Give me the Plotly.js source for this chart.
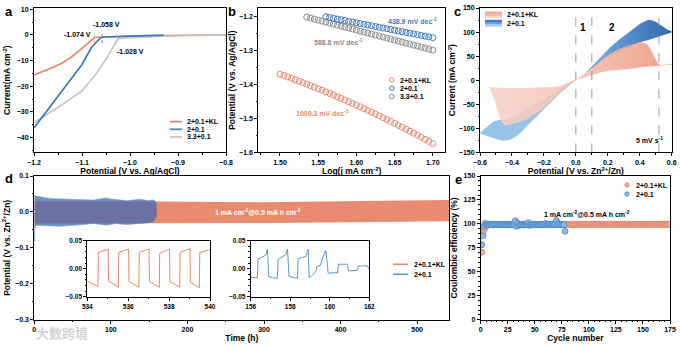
<!DOCTYPE html>
<html><head><meta charset="utf-8">
<script src="https://cdn.plot.ly/plotly-3.0.1.min.js"></script>
<style>html,body{margin:0;padding:0;background:#fff}#chart{width:680px;height:346px}</style>
</head><body><div id="chart"></div>
<script>
// ================= DATA =================
// (a) LSV curves
const aKLx = [-1.2, -1.18, -1.16, -1.14, -1.12, -1.10, -1.09, -1.08, -1.074, -1.065, -1.0, -0.95, -0.9, -0.85, -0.8];
const aKLy = [-15.6, -14.2, -12.6, -10.8, -8.3, -5.2, -3.6, -2.0, -1.0, -0.8, -0.45, -0.3, -0.2, -0.1, 0];
const aBx = [-1.2, -1.15, -1.1, -1.08, -1.07, -1.062, -1.058, -1.05, -1.0, -0.95, -0.93];
const aBy = [-36.2, -24.0, -11.5, -4.8, -2.6, -1.2, -1.0, -0.8, -0.45, -0.2, -0.1];
const aGx = [-1.2, -1.17, -1.14, -1.1, -1.07, -1.05, -1.04, -1.03, -1.025, -1.0, -0.95, -0.9, -0.85, -0.8];
const aGy = [-34.2, -30.6, -27.0, -21.8, -15.0, -9.5, -6.2, -3.0, -1.4, -1.0, -0.6, -0.3, -0.15, 0];
const aOnset = [-1.074, -1.058, -1.028];
const aOnsetLabels = ['-1.074 V', '-1.058 V', '-1.028 V'];
const seriesNames = ['2+0.1+KL', '2+0.1', '3.3+0.1'];

// (b) Tafel plots
const bKLx = [1.500,1.505,1.510,1.515,1.520,1.525,1.530,1.535,1.540,1.545,1.550,1.555,1.560,1.565,1.570,1.575,1.580,1.585,1.590,1.595,1.600,1.605,1.610,1.615,1.620,1.625,1.630,1.635,1.640,1.645,1.650,1.655,1.660,1.665,1.670,1.675,1.680,1.685,1.690,1.695,1.700];
const bKLy = [-1.3700,-1.3740,-1.3781,-1.3822,-1.3864,-1.3907,-1.3950,-1.3993,-1.4038,-1.4082,-1.4128,-1.4173,-1.4220,-1.4267,-1.4314,-1.4362,-1.4410,-1.4460,-1.4509,-1.4559,-1.4610,-1.4661,-1.4713,-1.4766,-1.4818,-1.4872,-1.4926,-1.4981,-1.5036,-1.5091,-1.5148,-1.5204,-1.5262,-1.5319,-1.5378,-1.5437,-1.5496,-1.5557,-1.5617,-1.5678,-1.5740];
const bBx = [1.560,1.565,1.570,1.575,1.580,1.585,1.590,1.595,1.600,1.605,1.610,1.615,1.620,1.625,1.630,1.635,1.640,1.645,1.650,1.655,1.660,1.665,1.670,1.675,1.680,1.685,1.690,1.695,1.700];
const bBy = [-1.2009,-1.2031,-1.2053,-1.2075,-1.2097,-1.2119,-1.2141,-1.2163,-1.2185,-1.2207,-1.2228,-1.2250,-1.2272,-1.2294,-1.2316,-1.2338,-1.2360,-1.2382,-1.2404,-1.2426,-1.2448,-1.2470,-1.2491,-1.2513,-1.2535,-1.2557,-1.2579,-1.2601,-1.2623];
const bGx = [1.535,1.540,1.545,1.550,1.555,1.560,1.565,1.570,1.575,1.580,1.585,1.590,1.595,1.600,1.605,1.610,1.615,1.620,1.625,1.630,1.635,1.640,1.645,1.650,1.655,1.660,1.665,1.670,1.675,1.680,1.685,1.690,1.695,1.700];
const bGy = [-1.2018,-1.2047,-1.2077,-1.2106,-1.2135,-1.2165,-1.2194,-1.2224,-1.2253,-1.2283,-1.2312,-1.2342,-1.2371,-1.2400,-1.2430,-1.2459,-1.2489,-1.2518,-1.2548,-1.2577,-1.2606,-1.2636,-1.2665,-1.2695,-1.2724,-1.2754,-1.2783,-1.2813,-1.2842,-1.2871,-1.2901,-1.2930,-1.2960,-1.2989];
const bSlopes = ['1009.3 mV dec<sup>-1</sup>', '438.9 mV dec<sup>-1</sup>', '588.8 mV dec<sup>-1</sup>'];

// (c) CV loops
const cKLx = [-0.6,-0.57,-0.54,-0.45,-0.35,-0.25,-0.15,-0.1,-0.06,-0.03,0.0,0.03,0.06,0.11,0.15,0.21,0.32,0.42,0.51,0.6,0.6,0.53,0.51,0.5,0.49,0.48,0.465,0.445,0.42,0.4,0.36,0.32,0.26,0.21,0.16,0.11,0.06,0.02,-0.02,-0.06,-0.1,-0.15,-0.2,-0.25,-0.3,-0.36,-0.41,-0.44,-0.465,-0.48,-0.495,-0.51,-0.525,-0.54,-0.57,-0.6];
const cKLy = [-13,-13.5,-15,-16,-16.5,-16,-14,-12,-6,-1,2,3,6,12,16,19.5,22.7,27.5,29.5,32,33.5,31,36,43,50,57,66,75,78.5,79,76,71.5,63,54,42,27,15,4,-5,-14,-26,-43,-58,-70,-80,-88,-93,-95,-88,-75,-58,-40,-26,-16,-13.5,-13];
const cBx = [-0.6,-0.57,-0.54,-0.515,-0.48,-0.43,-0.35,-0.25,-0.15,-0.05,0.0,0.05,0.11,0.16,0.214,0.27,0.319,0.36,0.402,0.43,0.454,0.48,0.506,0.528,0.548,0.575,0.6,0.6,0.55,0.5,0.45,0.4,0.35,0.3,0.25,0.2,0.15,0.1,0.05,0.0,-0.05,-0.1,-0.15,-0.2,-0.25,-0.3,-0.348,-0.37,-0.39,-0.42,-0.452,-0.48,-0.515,-0.55,-0.6];
const cBy = [-110,-100,-92,-86,-83,-82,-68,-49,-30,-10,0,12,33,51,68,84,96,107,117,122,125.5,124,120.6,115,110,105,101.7,99,94,88,83,79,72,64,55,46,35,24,12,0,-13,-28,-44,-60,-76,-93,-110,-116,-121,-124.5,-126,-124.5,-120.6,-116,-111];
const cDividers = [0, 0.1, 0.52];

// (d) galvanostatic cycling envelopes
const dKLt   = [0, 20, 50, 100, 150, 160, 170, 200, 250, 300, 350, 400, 450, 500, 542];
const dKLtop = [0.030, 0.030, 0.030, 0.030, 0.031, 0.031, 0.029, 0.028, 0.027, 0.027, 0.028, 0.029, 0.030, 0.031, 0.033];
const dKLbot = [-0.032, -0.032, -0.032, -0.032, -0.033, -0.033, -0.032, -0.032, -0.032, -0.031, -0.030, -0.029, -0.028, -0.027, -0.026];
const dBt   = [0, 0.4, 0.8, 1.5, 3, 10, 16, 25, 33, 45, 55, 65, 77, 86, 94, 100, 107, 114, 120, 128, 137, 145, 150, 155, 158, 160];
const dBtop = [0.048, 0.046, 0.044, 0.044, 0.044, 0.041, 0.039, 0.037, 0.036, 0.035, 0.035, 0.034, 0.033, 0.036, 0.039, 0.036, 0.035, 0.033, 0.031, 0.033, 0.035, 0.033, 0.031, 0.034, 0.030, 0.020];
const dBbot = [-0.060, -0.083, -0.050, -0.040, -0.037, -0.038, -0.039, -0.040, -0.040, -0.038, -0.037, -0.035, -0.032, -0.035, -0.037, -0.035, -0.032, -0.034, -0.035, -0.034, -0.033, -0.031, -0.030, -0.028, -0.020, -0.010];
// inset 1 (2+0.1+KL, 534-540 h)
const in1t = [534.0,534.52,534.54,535.02,535.04,535.52,535.54,536.02,536.04,536.52,536.54,537.02,537.04,537.52,537.54,538.02,538.04,538.52,538.54,539.02,539.04,539.48,539.5,540.0];
const in1v = [-0.022,-0.032,0.029,0.035,-0.022,-0.033,0.029,0.035,-0.023,-0.033,0.029,0.035,-0.023,-0.033,0.028,0.035,-0.023,-0.033,0.029,0.036,-0.024,-0.034,0.029,0.034];
// inset 2 (2+0.1, 156-162 h)
const in2t = [156.0,156.34,156.37,156.59,156.76,156.85,156.91,157.1,157.35,157.39,157.6,157.77,157.86,157.94,158.2,158.37,158.4,158.7,158.79,158.91,158.96,159.05,159.13,159.3,159.35,159.41,159.52,159.6,159.8,159.92,160.4,160.44,160.9,160.94,161.4,161.45,161.9,162.0];
const in2v = [-0.016,-0.016,0.017,0.021,0.024,0.035,-0.014,-0.016,-0.017,0.017,0.021,0.025,0.035,-0.014,-0.016,-0.017,0.018,0.021,0.022,0.035,-0.016,-0.014,-0.011,-0.005,0.004,0.005,0.006,0.0155,0.033,-0.008,-0.007,0.008,0.008,-0.004,-0.003,0.005,0.005,-0.002];

// (e) Coulombic efficiency
const eKL = [70.3,90.5,93.0,96.0,97.5,98.6,99.1,99.3,99.4,99.5,
99.6,99.4,99.5,99.7,99.5,99.4,99.6,99.5,99.6,99.4,
99.5,99.7,99.5,99.6,99.4,99.5,99.6,99.5,99.7,99.5,
99.4,99.6,99.5,99.5,99.7,99.6,99.4,99.5,99.6,99.5,
99.7,99.5,99.4,99.6,99.5,99.6,99.5,99.7,99.4,99.5,
99.6,99.5,99.5,99.7,99.6,99.4,99.5,99.6,99.5,99.7,
99.5,99.4,99.6,99.5,99.6,99.5,99.7,99.4,99.5,99.6,
99.5,99.6,99.7,99.5,99.4,99.6,99.5,99.6,99.5,99.7,
99.4,99.5,99.6,99.5,99.5,99.7,99.6,99.4,99.5,99.6,
99.5,99.7,99.5,99.4,99.6,99.5,99.6,99.5,99.7,99.4,
99.5,99.6,99.5,99.6,99.7,99.5,99.4,99.6,99.5,99.6,
99.5,99.7,99.4,99.5,99.6,99.5,99.5,99.7,99.6,99.4,
99.5,99.6,99.5,99.7,99.5,99.4,99.6,99.5,99.6,99.5,
99.7,99.4,99.5,99.6,99.5,99.6,99.7,99.5,99.4,99.6,
99.5,99.6,99.5,99.7,99.4,99.5,99.6,99.5,99.5,99.7,
99.6,99.4,99.5,99.6,99.5,99.7,99.5,99.4,99.6,99.5,
99.6,99.5,99.7,99.4,99.5,99.6,99.5,99.6,99.5,99.7,
99.4,99.5,99.6,99.5,99.6];
const eB = [78.3,87.5,97.5,100.5,99.0,99.3,98.8,99.5,99.2,99.6,
98.9,99.4,99.1,99.5,99.0,99.3,99.6,98.8,99.2,99.4,
99.0,99.5,99.3,98.9,99.6,99.1,99.4,99.2,99.0,99.5,
99.3,103.2,97.5,100.8,98.2,99.4,99.0,99.6,99.2,98.8,
99.5,99.1,99.3,101.2,98.5,99.4,99.0,99.6,99.2,99.4,
98.9,99.5,99.1,99.3,99.6,99.0,99.4,99.2,99.5,100.6,
99.0,99.3,99.5,99.1,99.4,99.2,99.6,98.9,99.3,103.6,
99.2,100.2,99.4,99.0,99.5,99.2,99.4,92.3];
const eKLcycle = eKL.map((v, i) => i + 1);
const eBcycle = eB.map((v, i) => i + 1);
const condText = '1 mA cm<sup>-2</sup>@0.5 mA h cm<sup>-2</sup>';

// ================= STYLE =================
const F = 'Liberation Sans, Arial, Helvetica, sans-serif';
const ORANGE = '#E8876C', BLUE = '#3D79B6', GREY = '#C6C6C6', GREYD = '#8A8A8A';
const W = 680, H = 346;
const px = v => v / W, py = v => 1 - v / H;
const bold = (s, c) => ({family: F, size: s, color: c || '#000', weight: 'bold'});

function axis(o) {
  const base = {showline: true, linecolor: '#000', linewidth: 1, mirror: true,
    ticks: 'outside', ticklen: 3, tickwidth: 1, tickcolor: '#000',
    showgrid: false, zeroline: false, tickfont: bold(7), automargin: false,
    minor: {ticks: 'outside', ticklen: 1.5, tickcolor: '#000'}};
  const r = Object.assign(base, o);
  if (o.minorD) { r.minor = Object.assign({}, base.minor, {dtick: o.minorD}); delete r.minorD; }
  if (r.title && r.title.text) r.title.font = bold(8.5);
  return r;
}

const topY = [py(152.3), py(8)];
const botY = [py(319.7), py(176)];
const insY = [py(296.7), py(240.7)];

const layout = {
  width: W, height: H, margin: {l: 0, r: 0, t: 0, b: 0},
  paper_bgcolor: '#fff', plot_bgcolor: 'rgba(0,0,0,0)',
  showlegend: false, hovermode: false,
  font: {family: F, size: 7, color: '#000', weight: 'bold'},
  xaxis: axis({domain: [px(34), px(226)], anchor: 'y', range: [-1.2, -0.8], dtick: 0.1, tick0: -1.2, tickformat: '.1f', minorD: 0.05,
    title: {text: 'Potential (V vs. Ag/AgCl)', standoff: 1}}),
  yaxis: axis({domain: topY, anchor: 'x', range: [-45.7, 10.5], dtick: 10, tick0: 0, minorD: 5,
    title: {text: 'Current(mA cm<sup>-2</sup>)', standoff: 4}}),
  xaxis2: axis({domain: [px(258.3), px(445)], anchor: 'y2', range: [1.4716, 1.7161], dtick: 0.05, tick0: 1.5, tickformat: '.2f', minorD: 0.025,
    title: {text: 'Log(j mA cm<sup>-2</sup>)', standoff: 1}}),
  yaxis2: axis({domain: topY, anchor: 'x2', range: [-1.6, -1.175], dtick: 0.1, tick0: -1.6, tickformat: '.1f', minorD: 0.05,
    title: {text: 'Potential (V vs. Ag/AgCl)', standoff: 2}}),
  xaxis3: axis({domain: [px(480), px(671.7)], anchor: 'y3', range: [-0.6, 0.6], dtick: 0.2, tick0: -0.6, tickformat: '.1f', minorD: 0.1,
    title: {text: 'Potential (V vs. Zn<sup>2+</sup>/Zn)', standoff: 1}}),
  yaxis3: axis({domain: topY, anchor: 'x3', range: [-150, 150], dtick: 50, tick0: 0, minorD: 25,
    title: {text: 'Current (mA cm<sup>-2</sup>)', standoff: 1}}),
  xaxis4: axis({domain: [px(34.3), px(449.3)], anchor: 'y4', range: [0, 542], dtick: 100, tick0: 0, minorD: 50,
    title: {text: 'Time (h)', standoff: 2}}),
  yaxis4: axis({domain: botY, anchor: 'x4', range: [-0.3, 0.1], dtick: 0.1, tick0: 0, tickformat: '.1f', minorD: 0.05,
    title: {text: 'Potential (V vs. Zn<sup>2+</sup>/Zn)', standoff: 3}}),
  xaxis5: axis({domain: [px(480.7), px(670)], anchor: 'y5', range: [0, 175], dtick: 25, tick0: 0,
    title: {text: 'Cycle number', standoff: 2}}),
  yaxis5: axis({domain: botY, anchor: 'x5', range: [0, 150], dtick: 25, tick0: 0,
    title: {text: 'Coulombic efficiency (%)', standoff: 4}}),
  xaxis6: axis({domain: [px(87.3), px(210)], anchor: 'y6', range: [534, 540], dtick: 2, tick0: 534, minorD: 1, tickfont: bold(6.5)}),
  yaxis6: axis({domain: insY, anchor: 'x6', range: [-0.05, 0.05], dtick: 0.05, tick0: 0, tickformat: '.2f', tickfont: bold(6.5)}),
  xaxis7: axis({domain: [px(250.7), px(369.3)], anchor: 'y7', range: [156, 162], dtick: 2, tick0: 156, minorD: 1, tickfont: bold(6.5)}),
  yaxis7: axis({domain: insY, anchor: 'x7', range: [-0.05, 0.05], dtick: 0.05, tick0: 0, tickformat: '.2f', tickfont: bold(6.5)}),
  shapes: [], annotations: []
};

const A = layout.annotations, S = layout.shapes;
function note(text, x, y, opt) {
  A.push(Object.assign({text: text, x: px(x), y: py(y), xref: 'paper', yref: 'paper', showarrow: false,
    xanchor: 'center', yanchor: 'middle', font: bold(7)}, opt || {}));
}
// panel letters
[['a', 9, 12], ['b', 232, 12], ['c', 457, 12], ['d', 9, 178], ['e', 458, 179]].forEach(l => note(l[0], l[1], l[2], {font: bold(13)}));

// ---- traces ----
const data = [];
// (a)
data.push({x: aKLx, y: aKLy, xaxis: 'x', yaxis: 'y', mode: 'lines', line: {color: ORANGE, width: 1.7}, name: seriesNames[0]});
data.push({x: aGx, y: aGy, xaxis: 'x', yaxis: 'y', mode: 'lines', line: {color: GREY, width: 1.7}, name: seriesNames[2]});
data.push({x: aBx, y: aBy, xaxis: 'x', yaxis: 'y', mode: 'lines', line: {color: BLUE, width: 1.7}, name: seriesNames[1]});
const onsetCol = ['#F2B7A6', '#5A8FC8', '#BDBDBD'];
aOnset.forEach((v, i) => data.push({x: [v, v], y: [-3.2, 1.6], xaxis: 'x', yaxis: 'y', mode: 'lines',
  line: {color: onsetCol[i], width: 1, dash: 'dot'}}));
note(aOnsetLabels[0], 93, 34, {xanchor: 'right'});
note(aOnsetLabels[1], 106, 25);
note(aOnsetLabels[2], 130, 51);
// legend a
[[ORANGE, 121.7], [BLUE, 129.3], [GREY, 136.9]].forEach((c, i) => {
  S.push({type: 'line', xref: 'paper', yref: 'paper', x0: px(170), x1: px(182), y0: py(c[1]), y1: py(c[1]), line: {color: c[0], width: 1.7}});
  note(seriesNames[i], 185, c[1], {xanchor: 'left'});
});

// (b)
const mk = c => ({symbol: 'circle-open', size: 6, color: c, line: {width: 1, color: c}});
data.push({x: bKLx, y: bKLy, xaxis: 'x2', yaxis: 'y2', mode: 'markers', marker: mk(ORANGE)});
data.push({x: bGx, y: bGy, xaxis: 'x2', yaxis: 'y2', mode: 'markers', marker: mk(GREYD)});
data.push({x: bBx, y: bBy, xaxis: 'x2', yaxis: 'y2', mode: 'markers', marker: mk(BLUE)});
note(bSlopes[1], 413, 21.5, {font: bold(7, BLUE)});
note(bSlopes[2], 338, 41.5, {font: bold(7, GREYD)});
note(bSlopes[0], 322, 113, {font: bold(7, ORANGE)});
[[ORANGE, 80], [BLUE, 88.3], [GREYD, 96.6]].forEach((c, i) => {
  S.push({type: 'circle', xref: 'paper', yref: 'paper', x0: px(389.5), x1: px(394), y0: py(c[1] - 2.2), y1: py(c[1] + 2.2), line: {color: c[0], width: 1}});
  note(seriesNames[i], 398, c[1], {xanchor: 'left'});
});

// (c)
data.push({x: cBx, y: cBy, xaxis: 'x3', yaxis: 'y3', mode: 'lines', fill: 'toself', line: {width: 0, color: 'rgba(0,0,0,0)'},
  fillgradient: {type: 'horizontal', colorscale: [[0, 'rgb(150,196,230)'], [0.45, 'rgb(150,192,228)'], [0.75, 'rgb(90,145,205)'], [1, 'rgb(45,105,175)']]}});
data.push({x: cKLx, y: cKLy, xaxis: 'x3', yaxis: 'y3', mode: 'lines', fill: 'toself', line: {width: 0, color: 'rgba(0,0,0,0)'},
  fillgradient: {type: 'horizontal', colorscale: [[0, 'rgba(247,212,200,0.88)'], [0.5, 'rgba(244,196,180,0.88)'], [1, 'rgba(236,148,124,0.9)']]}});
cDividers.forEach(v => S.push({type: 'line', xref: 'x3', yref: 'y3 domain', x0: v, x1: v, y0: 0, y1: 1, line: {color: '#9A9A9A', width: 1, dash: 'dash'}}));
note('1', 583, 28, {font: bold(10)});
note('2', 612, 28, {font: bold(10)});
note('5 mV s<sup>-1</sup>', 665, 140, {xanchor: 'right'});
// legend c
[[['#F9D9CE', '#F3BBA8', '#EEA48D'], 15], [['#A9CDEA', '#6FA3D5', '#3F7CBC'], 23.2]].forEach((c, i) => {
  c[0].forEach((col, j) => S.push({type: 'rect', xref: 'paper', yref: 'paper', x0: px(485), x1: px(502),
    y0: py(c[1] + 3.4 - j * 2.27), y1: py(c[1] + 3.4 - (j + 1) * 2.27), line: {width: 0}, fillcolor: col}));
  note(seriesNames[i], 505, c[1], {xanchor: 'left'});
});

// (d)
data.push({x: dKLt, y: dKLtop, xaxis: 'x4', yaxis: 'y4', mode: 'lines', line: {width: 0, color: ORANGE}});
data.push({x: dKLt, y: dKLbot, xaxis: 'x4', yaxis: 'y4', mode: 'lines', line: {width: 0, color: ORANGE}, fill: 'tonexty', fillcolor: '#EA8A70'});
data.push({x: dBt, y: dBtop, xaxis: 'x4', yaxis: 'y4', mode: 'lines', line: {width: 0.6, color: 'rgba(100,150,205,0.8)'}});
data.push({x: dBt, y: dBbot, xaxis: 'x4', yaxis: 'y4', mode: 'lines', line: {width: 0.6, color: 'rgba(100,150,205,0.8)'}, fill: 'tonexty', fillcolor: 'rgba(62,105,178,0.74)'});
note(condText, 258, 212, {font: bold(7, '#fff')});
data.push({x: in1t, y: in1v, xaxis: 'x6', yaxis: 'y6', mode: 'lines', line: {color: ORANGE, width: 1}});
data.push({x: in2t, y: in2v, xaxis: 'x7', yaxis: 'y7', mode: 'lines', line: {color: '#5B95CC', width: 1}});
[[ORANGE, 264.3], ['#5B95CC', 274.3]].forEach((c, i) => {
  S.push({type: 'line', xref: 'paper', yref: 'paper', x0: px(393), x1: px(408), y0: py(c[1]), y1: py(c[1]), line: {color: c[0], width: 1.6}});
  note(seriesNames[i], 412, c[1], {xanchor: 'left'});
});

// (e)
data.push({x: eKLcycle, y: eKL, xaxis: 'x5', yaxis: 'y5', mode: 'markers', marker: {symbol: 'circle', size: 6, color: '#F3AA95', line: {color: '#E5876C', width: 0.8}}});
data.push({x: eBcycle, y: eB, xaxis: 'x5', yaxis: 'y5', mode: 'markers', marker: {symbol: 'circle', size: 6, color: '#8CB8E2', line: {color: '#4A86C5', width: 0.8}}});
note(condText, 587, 214);
[[['#F3AA95', '#E5876C'], 185], [['#8CB8E2', '#4A86C5'], 194]].forEach((c, i) => {
  S.push({type: 'circle', xref: 'paper', yref: 'paper', x0: px(624.8), x1: px(629.2), y0: py(c[1] - 2.2), y1: py(c[1] + 2.2), fillcolor: c[0][0], line: {color: c[0][1], width: 0.8}});
  note(seriesNames[i], 634, c[1], {xanchor: 'left'});
});

// watermark
note('大数跨境', 62, 332, {font: {family: 'Noto Sans CJK SC', size: 13, color: 'rgba(200,200,200,0.8)'}});

Plotly.newPlot('chart', data, layout, {displayModeBar: false});
</script></body></html>
